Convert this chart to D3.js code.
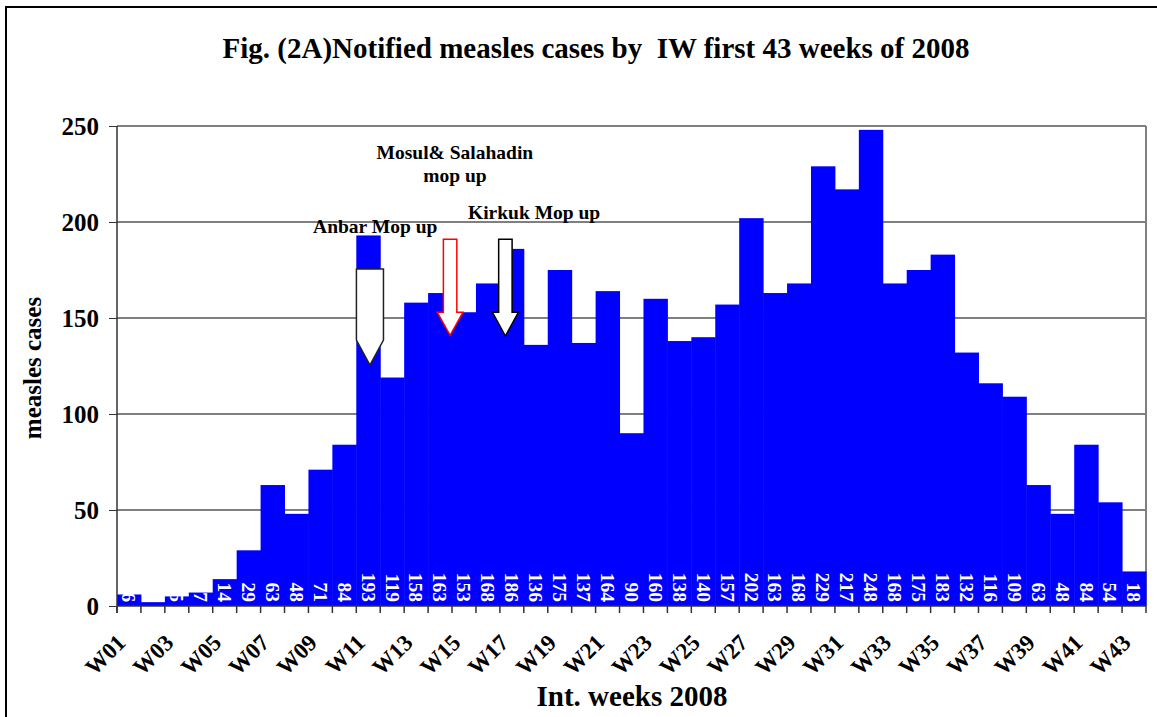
<!DOCTYPE html>
<html>
<head>
<meta charset="utf-8">
<script src="https://cdnjs.cloudflare.com/ajax/libs/d3/7.8.5/d3.min.js"></script>
<style>
  body { margin: 0; background: #fff; }
  text { font-family: "Liberation Serif", "Times New Roman", serif; font-weight: bold; white-space: pre; }
</style>
</head>
<body>
<div id="chart"></div>
<script>
// weekly data
var weeks = ["W01","W02","W03","W04","W05","W06","W07","W08","W09","W10",
  "W11","W12","W13","W14","W15","W16","W17","W18","W19","W20",
  "W21","W22","W23","W24","W25","W26","W27","W28","W29","W30",
  "W31","W32","W33","W34","W35","W36","W37","W38","W39","W40",
  "W41","W42","W43"];
var cases = [6,2,5,7,14,29,63,48,71,84,
  193,119,158,163,153,168,186,136,175,137,
  164,90,160,138,140,157,202,163,168,229,
  217,248,168,175,183,132,116,109,63,48,
  84,54,18];
var yTicks = [0, 50, 100, 150, 200, 250];

// mop up annotations (position in week units / case values)
var noteLabels = [
  { lines: ["Anbar Mop up"], at: 10.79, value: 194.3 },
  { lines: ["Mosul& Salahadin", "mop up"], at: 14.12, value: 232.8 },
  { lines: ["Kirkuk Mop up"], at: 17.43, value: 201.6 }
];
var noteArrows = [
  { kind: "pointer", at: 10.57, top: 175.5, neck: 138.5, tip: 125.5, width: 1.13, color: "#222" },
  { kind: "block", at: 13.92, top: 191, neck: 153, tip: 141, width: 1.08, color: "#ff0000" },
  { kind: "block", at: 16.23, top: 191, neck: 153, tip: 140.6, width: 1.08, color: "#000" }
];

var svgWidth = 1157;
var svgHeight = 717;
var margin = { top: 126, left: 117, right: 11, bottom: 111 };
var width = svgWidth - margin.left - margin.right;
var height = svgHeight - margin.top - margin.bottom;

var svg = d3.select("#chart")
  .append("svg")
  .attr("width", svgWidth)
  .attr("height", svgHeight);

// outer frame
svg.append("rect")
  .attr("x", 6)
  .attr("y", 7)
  .attr("width", 1200)
  .attr("height", 800)
  .attr("fill", "none")
  .attr("stroke", "#000")
  .attr("stroke-width", 2);

svg.append("text")
  .attr("x", 596)
  .attr("y", 58)
  .attr("text-anchor", "middle")
  .attr("font-size", 29)
  .text("Fig. (2A)Notified measles cases by  IW first 43 weeks of 2008");

var chartGroup = svg.append("g")
  .attr("transform", `translate(${margin.left}, ${margin.top})`);

var xScale = d3.scaleBand()
  .domain(weeks)
  .range([0, width])
  .padding(0);

var yScale = d3.scaleLinear()
  .domain([0, 250])
  .range([height, 0]);

// continuous helper for annotations in week units
var xPos = d3.scaleLinear()
  .domain([0, weeks.length])
  .range([0, width]);

// gridlines
chartGroup.append("g")
  .selectAll("line")
  .data(yTicks.slice(1))
  .enter()
  .append("line")
  .attr("x1", 0)
  .attr("x2", width)
  .attr("y1", d => yScale(d))
  .attr("y2", d => yScale(d))
  .attr("stroke", "#000")
  .attr("stroke-width", 1);

// right border of plot
chartGroup.append("line")
  .attr("x1", width)
  .attr("x2", width)
  .attr("y1", 0)
  .attr("y2", height)
  .attr("stroke", "#808080")
  .attr("stroke-width", 2);

// bars
chartGroup.selectAll(".bar")
  .data(cases)
  .enter()
  .append("rect")
  .attr("class", "bar")
  .attr("x", (d, i) => xScale(weeks[i]))
  .attr("y", d => yScale(d))
  .attr("width", xScale.bandwidth() + 0.5)
  .attr("height", d => height - yScale(d))
  .attr("fill", "#0000ff");

// value labels inside the base of each bar
chartGroup.append("clipPath")
  .attr("id", "plotClip")
  .append("rect")
  .attr("width", width)
  .attr("height", height);

chartGroup.append("g")
  .attr("clip-path", "url(#plotClip)")
  .selectAll("text")
  .data(cases)
  .enter()
  .append("text")
  .attr("transform", (d, i) =>
    `translate(${xScale(weeks[i]) + xScale.bandwidth() / 2}, ${height - 4}) rotate(90)`)
  .attr("text-anchor", "end")
  .attr("dy", "0.34em")
  .attr("fill", "#fff")
  .attr("font-size", 19.5)
  .text(d => d);

// axes
var yAxis = d3.axisLeft(yScale)
  .tickValues(yTicks)
  .tickSize(8)
  .tickPadding(10)
  .tickFormat(d3.format("d"));

var yAxisG = chartGroup.append("g").call(yAxis);
yAxisG.select(".domain").attr("stroke", "#333").attr("stroke-width", 1.5)
  .attr("d", `M0,0V${height + 7}`);
yAxisG.selectAll(".tick line").attr("stroke", "#333");
yAxisG.selectAll(".tick text")
  .attr("font-size", 25)
  .attr("font-family", "Liberation Serif")
  .attr("font-weight", "bold")
  .attr("fill", "#000");

var xAxisG = chartGroup.append("g")
  .attr("transform", `translate(0, ${height})`);

xAxisG.append("line")
  .attr("x1", 0)
  .attr("x2", width)
  .attr("stroke", "#333")
  .attr("stroke-width", 1.5);

xAxisG.selectAll(".xtick")
  .data(d3.range(weeks.length + 1))
  .enter()
  .append("line")
  .attr("class", "xtick")
  .attr("x1", d => xPos(d))
  .attr("x2", d => xPos(d))
  .attr("y1", 0)
  .attr("y2", 7)
  .attr("stroke", "#333")
  .attr("stroke-width", 1.5);

xAxisG.selectAll(".xlabel")
  .data(weeks.filter((d, i) => i % 2 === 0))
  .enter()
  .append("text")
  .attr("class", "xlabel")
  .attr("transform", d =>
    `translate(${xScale(d) + xScale.bandwidth() / 2 - 2}, 38) rotate(-45)`)
  .attr("text-anchor", "end")
  .attr("font-size", 23)
  .text(d => d);

// axis titles
chartGroup.append("text")
  .attr("transform", "rotate(-90)")
  .attr("x", 0 - 242)
  .attr("y", 0 - 76)
  .attr("text-anchor", "middle")
  .attr("font-size", 25)
  .text("measles cases");

chartGroup.append("text")
  .attr("x", 515)
  .attr("y", height + 100)
  .attr("text-anchor", "middle")
  .attr("font-size", 29)
  .text("Int. weeks 2008");

// mop up arrows
var arrowPath = function(a) {
  var cx = xPos(a.at);
  var bw = xPos(a.width) - xPos(0);
  var half = bw / 2;
  if (a.kind === "pointer") {
    return `M${cx - half},${yScale(a.top)}H${cx + half}V${yScale(a.neck)}` +
      `L${cx},${yScale(a.tip)}L${cx - half},${yScale(a.neck)}Z`;
  }
  var shaft = half * 0.52;
  return `M${cx - shaft},${yScale(a.top)}H${cx + shaft}V${yScale(a.neck)}` +
    `H${cx + half}L${cx},${yScale(a.tip)}L${cx - half},${yScale(a.neck)}` +
    `H${cx - shaft}Z`;
};

chartGroup.selectAll(".arrow")
  .data(noteArrows)
  .enter()
  .append("path")
  .attr("class", "arrow")
  .attr("d", arrowPath)
  .attr("fill", "#fff")
  .attr("stroke", d => d.color)
  .attr("stroke-width", 1.5)
  .attr("stroke-linejoin", "miter");

// annotation texts
var notes = chartGroup.selectAll(".note")
  .data(noteLabels)
  .enter()
  .append("text")
  .attr("class", "note")
  .attr("x", d => xPos(d.at))
  .attr("y", d => yScale(d.value))
  .attr("text-anchor", "middle")
  .attr("font-size", 19.5);

notes.selectAll("tspan")
  .data(d => d.lines.map(l => ({ text: l, at: d.at })))
  .enter()
  .append("tspan")
  .attr("x", d => xPos(d.at))
  .attr("dy", (d, i) => i === 0 ? 0 : 23)
  .text(d => d.text);
</script>
</body>
</html>
